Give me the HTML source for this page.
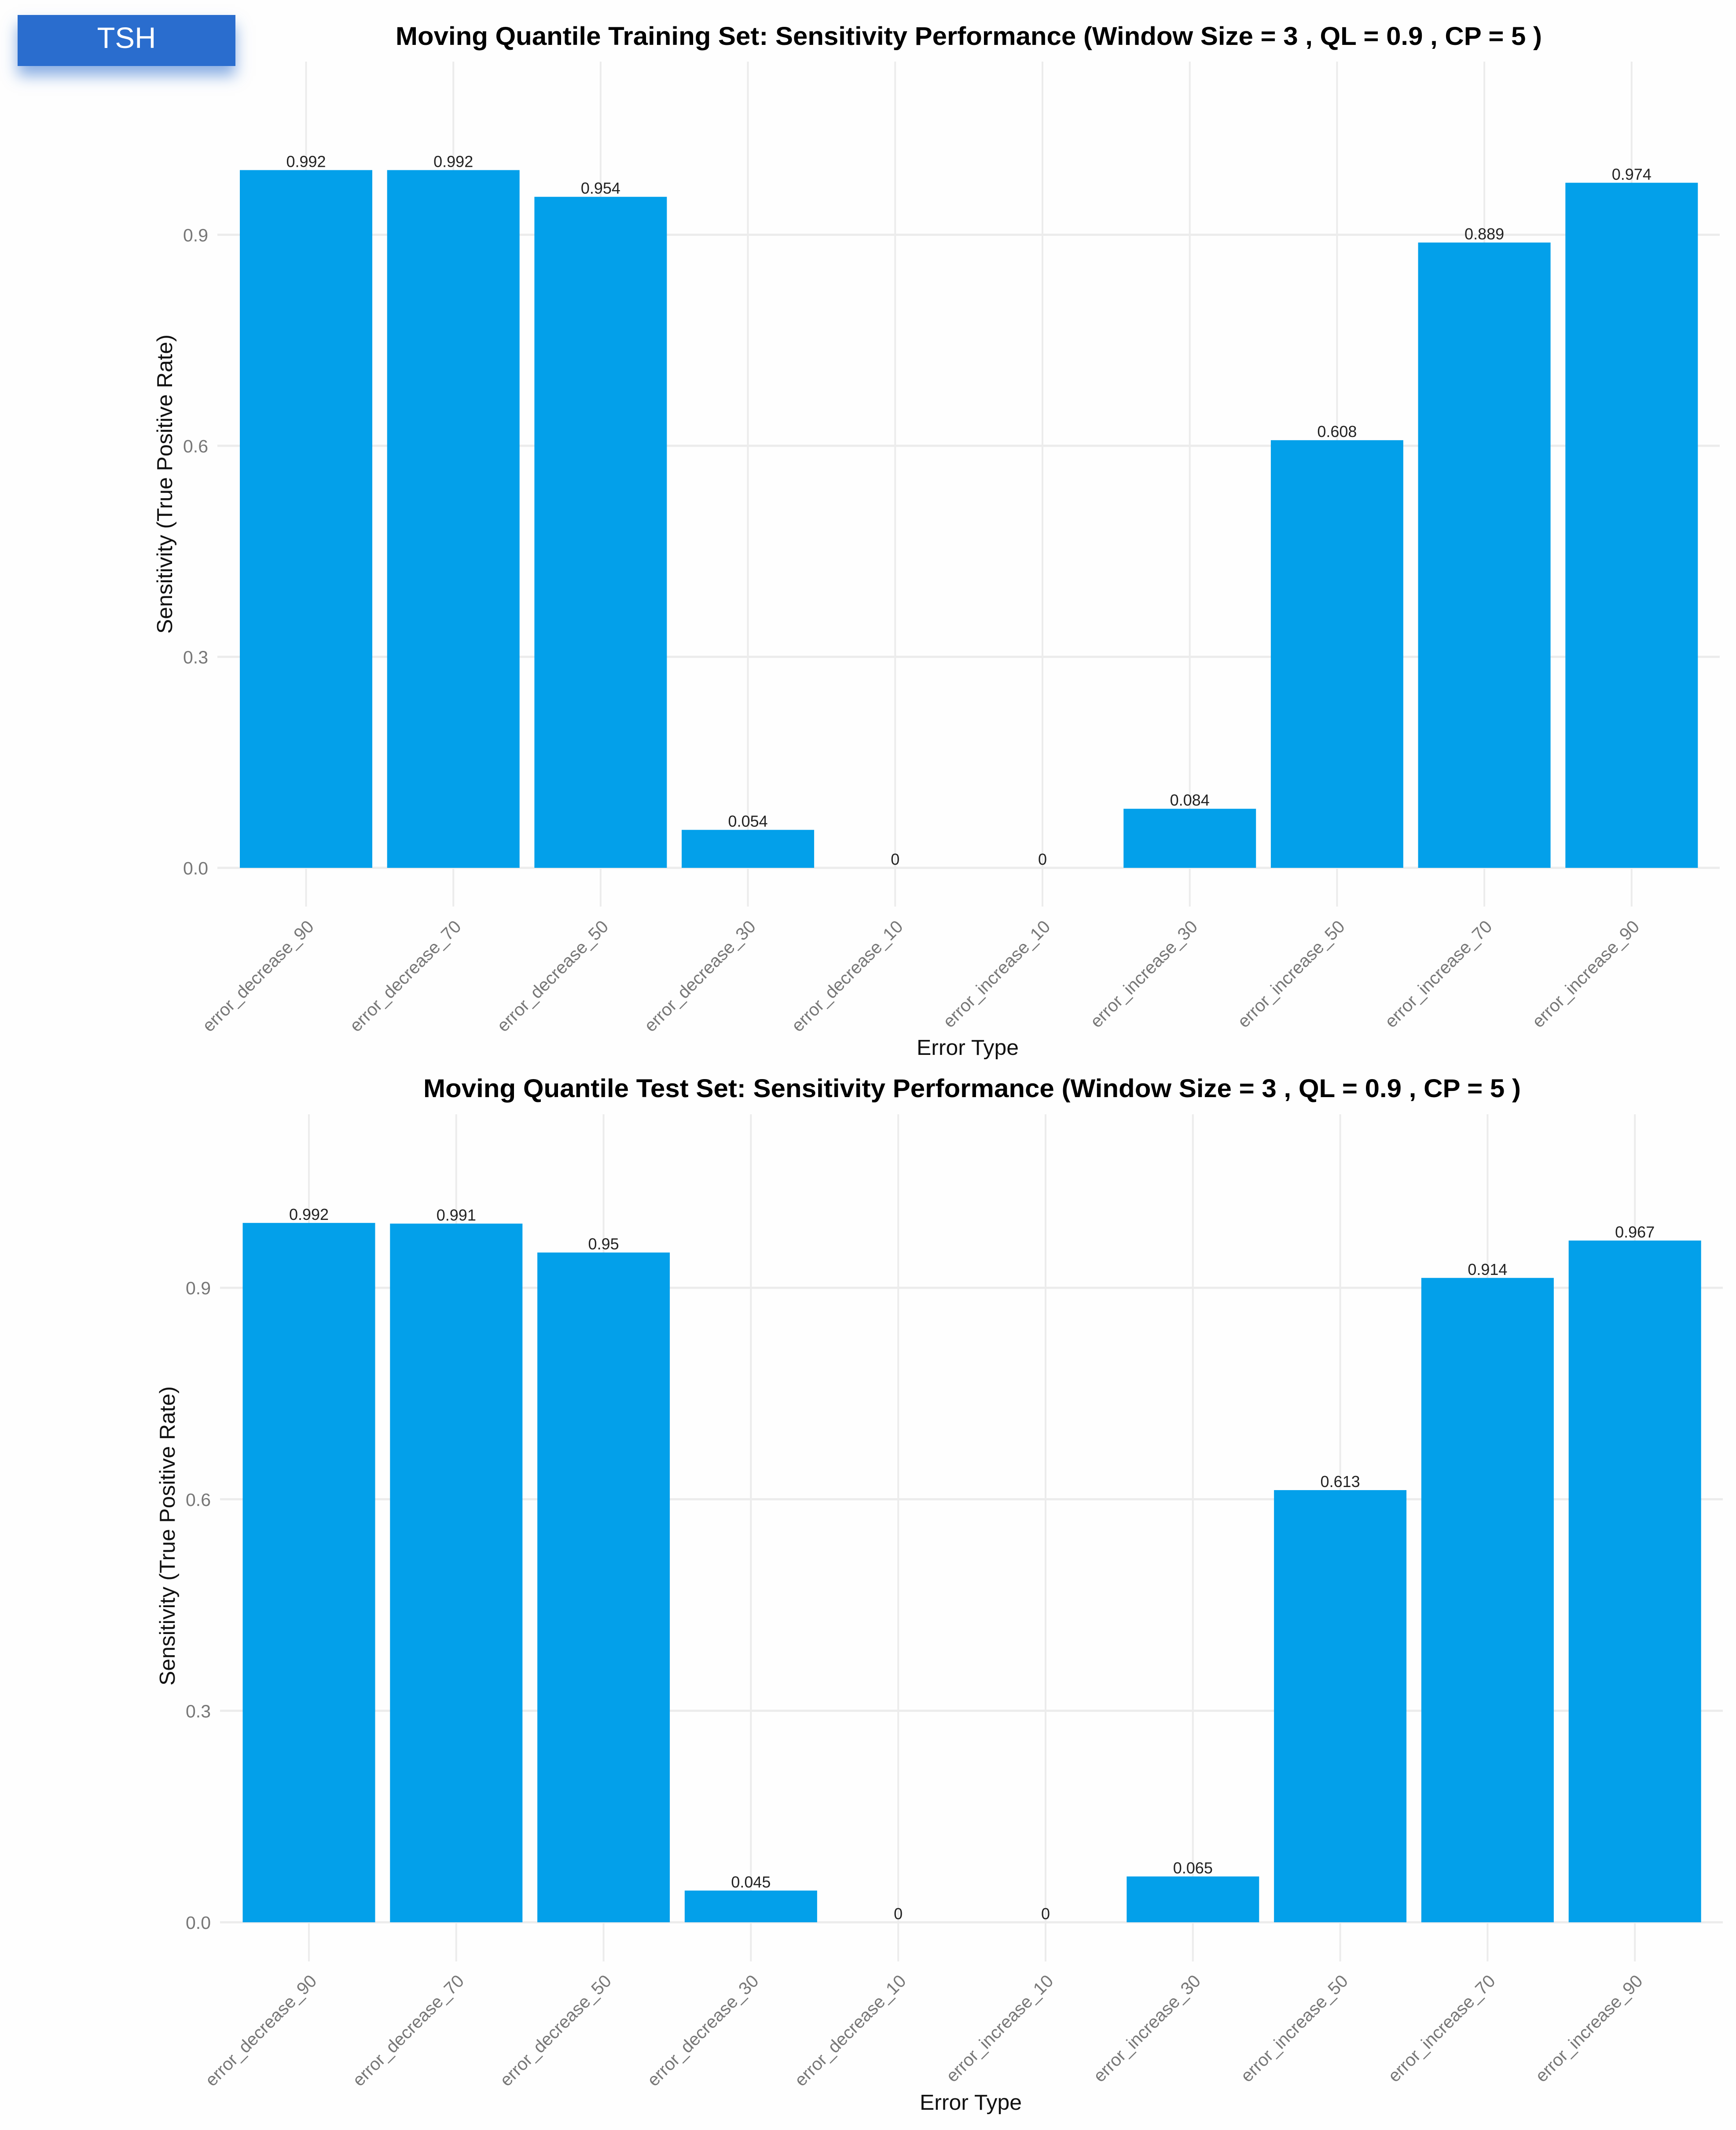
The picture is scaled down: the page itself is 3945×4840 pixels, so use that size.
<!DOCTYPE html>
<html lang="en">
<head>
<meta charset="utf-8">
<title>Moving Quantile Sensitivity Performance</title>
<style>
  html, body { margin: 0; padding: 0; background: #fefefe; }
  body { width: 3945px; height: 4840px; position: relative; overflow: hidden; font-family: "Liberation Sans", sans-serif; }
  #tsh-badge { position: absolute; left: 40px; top: 34px; width: 495px; height: 116px; background: #2a6dce;
    box-shadow: 0 22px 32px rgba(42,109,206,.55); color: #fff; font-size: 67px; text-align: center; line-height: 106px; }
  svg { position: absolute; left: 0; top: 0; }
  text { font-family: "Liberation Sans", sans-serif; }
</style>
</head>
<body>
<svg id="canvas" width="3945" height="4840" viewBox="0 0 3945 4840" xmlns="http://www.w3.org/2000/svg">
  <g id="train-chart">
    <text x="899" y="102" font-size="58" font-weight="700" fill="#000" textLength="2605" lengthAdjust="spacingAndGlyphs">Moving Quantile Training Set: Sensitivity Performance (Window Size = 3 , QL = 0.9 , CP = 5 )</text>
    <text x="2199" y="2397" font-size="49" fill="#111" text-anchor="middle" textLength="232" lengthAdjust="spacingAndGlyphs">Error Type</text>
    <text transform="translate(391,1100) rotate(-90)" font-size="49" fill="#111" text-anchor="middle" textLength="680" lengthAdjust="spacingAndGlyphs">Sensitivity (True Positive Rate)</text>
  </g>
  <g id="test-chart">
    <text x="962" y="2493" font-size="58" font-weight="700" fill="#000" textLength="2494" lengthAdjust="spacingAndGlyphs">Moving Quantile Test Set: Sensitivity Performance (Window Size = 3 , QL = 0.9 , CP = 5 )</text>
    <text x="2206" y="4794" font-size="49" fill="#111" text-anchor="middle" textLength="232" lengthAdjust="spacingAndGlyphs">Error Type</text>
    <text transform="translate(397,3490) rotate(-90)" font-size="49" fill="#111" text-anchor="middle" textLength="680" lengthAdjust="spacingAndGlyphs">Sensitivity (True Positive Rate)</text>
  </g>
</svg>
<div id="tsh-badge">TSH</div>
<script>
const categories = ["error_decrease_90","error_decrease_70","error_decrease_50","error_decrease_30","error_decrease_10","error_increase_10","error_increase_30","error_increase_50","error_increase_70","error_increase_90"];
const trainValues = [0.992,0.992,0.954,0.054,0,0,0.084,0.608,0.889,0.974];
const testValues = [0.992,0.991,0.95,0.045,0,0,0.065,0.613,0.914,0.967];
const yTicks = [0,0.3,0.6,0.9];
const yTickLabels = ["0.0","0.3","0.6","0.9"];

const NS = "http://www.w3.org/2000/svg";

function svgEl(tag, parent, attrs) {
  const el = document.createElementNS(NS, tag);
  for (const k in attrs) el.setAttribute(k, attrs[k]);
  parent.appendChild(el);
  return el;
}

function drawChart(parent, values, layout) {
  const xScale = i => layout.firstX + i * layout.stepX;
  const yScale = v => layout.zeroY - v * layout.unitY;
  const barWidth = 301;
  const frag = document.createElementNS(NS, "g");
  parent.insertBefore(frag, parent.firstChild);

  yTicks.forEach((t, i) => {
    const line = svgEl("line", frag, {x1: layout.gridLeft, x2: layout.gridRight, y1: yScale(t), y2: yScale(t), stroke: "#ececec", "stroke-width": 5});
    
    
    const label = svgEl("text", frag, {x: layout.gridLeft - 21, y: yScale(t) + 15, "font-size": 41, fill: "#777", "text-anchor": "end"});
    
    
    label.textContent = yTickLabels[i];
  });

  categories.forEach((c, i) => {
    const line = svgEl("line", frag, {x1: xScale(i), x2: xScale(i), y1: layout.gridTop, y2: layout.gridBottom, stroke: "#ececec", "stroke-width": 4});
    
    
  });

  values.forEach((v, i) => {
    const cx = xScale(i);
    const top = yScale(v);
    if (v > 0) {
      const bar = svgEl("rect", frag, {x: cx - barWidth / 2, y: top, width: barWidth, height: layout.zeroY - top, fill: "#009fea", "fill-opacity": 0.99});
      
      
    }
    const val = svgEl("text", frag, {x: cx, y: top - 7, "font-size": 36, fill: "#222", "text-anchor": "middle"});
    
    
    val.textContent = String(v);

    const tick = svgEl("text", frag, {"font-size": 40, fill: "#777", "text-anchor": "end",
      transform: "translate(" + (cx + 20) + "," + (layout.zeroY + 136) + ") rotate(-45)"});
    
    
    tick.textContent = categories[i];
  });
}

drawChart(document.getElementById("train-chart"), trainValues,
  {firstX: 695.5, stepX: 334.7, zeroY: 1972, unitY: 1598.3, gridLeft: 494, gridRight: 3908, gridTop: 140, gridBottom: 2060});
drawChart(document.getElementById("test-chart"), testValues,
  {firstX: 702, stepX: 334.8, zeroY: 4368, unitY: 1602, gridLeft: 500, gridRight: 3915, gridTop: 2532, gridBottom: 4457});
</script>
</body>
</html>
